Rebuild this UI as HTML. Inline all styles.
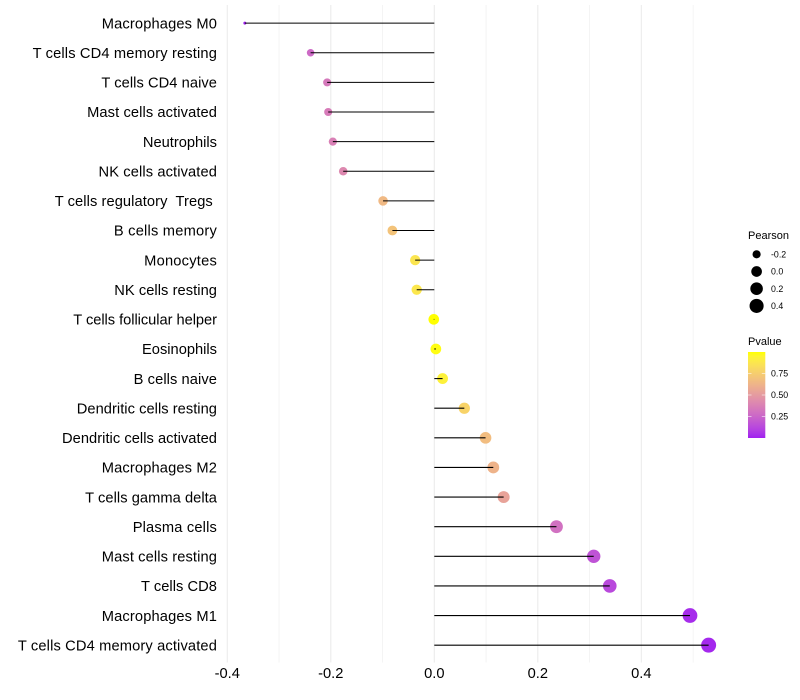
<!DOCTYPE html>
<html>
<head>
<meta charset="utf-8">
<title>Lollipop chart</title>
<style>
html,body{margin:0;padding:0;background:#fff;}
svg{display:block;font-family:"Liberation Sans",sans-serif;}
</style>
</head>
<body>
<svg id="chart" width="800" height="700" viewBox="0 0 800 700"></svg>
<script>
const categories = ["Macrophages M0","T cells CD4 memory resting","T cells CD4 naive","Mast cells activated","Neutrophils","NK cells activated","T cells regulatory  Tregs ","B cells memory","Monocytes","NK cells resting","T cells follicular helper","Eosinophils","B cells naive","Dendritic cells resting","Dendritic cells activated","Macrophages M2","T cells gamma delta","Plasma cells","Mast cells resting","T cells CD8","Macrophages M1","T cells CD4 memory activated"];
const pearsonValues = [-0.366,-0.239,-0.207,-0.205,-0.196,-0.176,-0.099,-0.081,-0.037,-0.034,-0.001,0.003,0.016,0.058,0.099,0.114,0.134,0.236,0.308,0.339,0.494,0.53];
const pValues = [0.001,0.27,0.34,0.35,0.37,0.41,0.65,0.70,0.87,0.88,1.0,0.99,0.93,0.78,0.67,0.62,0.54,0.30,0.17,0.13,0.03,0.02];
const xTicks = [-0.4,-0.2,0.0,0.2,0.4];
const xMinorTicks = [-0.3,-0.1,0.1,0.3,0.5];
const sizeLegendValues = [-0.2,0.0,0.2,0.4];
const colorLegendValues = [0.75,0.50,0.25];
const colorDomain = [0,1];

const NS = 'http://www.w3.org/2000/svg';
const svg = document.getElementById('chart');
function make(tag, attrs, text){
  const e = document.createElementNS(NS, tag);
  for (const k in attrs) e.setAttribute(k, attrs[k]);
  if (text !== undefined) e.textContent = text;
  return e;
}
const X0 = 434.3, XK = 517.6, Y0 = 23.15, YS = 29.62, PT = 5, PB = 662.5;
function xScale(v){ return X0 + v * XK; }
function yScale(i){ return Y0 + i * YS; }
function radius(v){
  const lo = Math.min(...pearsonValues), hi = Math.max(...pearsonValues);
  const t = Math.max(0, (v - lo) / (hi - lo));
  return (1 + 5 * Math.sqrt(t)) * 7.2 / 6 + 0.3;
}
function toLin(c){ c/=255; return c<=0.04045?c/12.92:Math.pow((c+0.055)/1.055,2.4); }
function fromLin(c){ const v=c<=0.0031308?12.92*c:1.055*Math.pow(c,1/2.4)-0.055; return Math.round(255*Math.min(1,Math.max(0,v))); }
function rgb2lab(r,g,b){
  r=toLin(r);g=toLin(g);b=toLin(b);
  const X=(0.4124*r+0.3576*g+0.1805*b)/0.95047,Y=0.2126*r+0.7152*g+0.0722*b,Z=(0.0193*r+0.1192*g+0.9505*b)/1.08883;
  const f=t=>t>0.008856?Math.cbrt(t):7.787*t+16/116;
  return [116*f(Y)-16,500*(f(X)-f(Y)),200*(f(Y)-f(Z))];
}
function lab2rgb(L,a,b){
  const fy=(L+16)/116,fx=fy+a/500,fz=fy-b/200;
  const g=t=>t*t*t>0.008856?t*t*t:(t-16/116)/7.787;
  const X=g(fx)*0.95047,Y=g(fy),Z=g(fz)*1.08883;
  return 'rgb('+fromLin(3.2406*X-1.5372*Y-0.4986*Z)+','+fromLin(-0.9689*X+1.8758*Y+0.0415*Z)+','+fromLin(0.0557*X-0.2040*Y+1.0570*Z)+')';
}
const labLow = rgb2lab(160,32,240), labHigh = rgb2lab(255,255,0);
function color(p){
  const t = (p - colorDomain[0]) / (colorDomain[1] - colorDomain[0]);
  return lab2rgb(labLow[0]+(labHigh[0]-labLow[0])*t, labLow[1]+(labHigh[1]-labLow[1])*t, labLow[2]+(labHigh[2]-labLow[2])*t);
}

/* gridlines */
xMinorTicks.forEach(v=>{
  const l = make('line',{x1:xScale(v),x2:xScale(v),y1:PT,y2:PB,stroke:'#ebebeb','stroke-width':0.55});
  
  
  svg.appendChild(l);
});
xTicks.forEach(v=>{
  const l = make('line',{x1:xScale(v),x2:xScale(v),y1:PT,y2:PB,stroke:'#ebebeb','stroke-width':1.07});
  
  
  svg.appendChild(l);
});

/* points */
categories.forEach((c,i)=>{
  const pt = make('circle',{cx:xScale(pearsonValues[i]),cy:yScale(i),r:radius(pearsonValues[i]),fill:color(pValues[i])});
  
  
  svg.appendChild(pt);
});
/* stems */
categories.forEach((c,i)=>{
  const st = make('line',{x1:xScale(0),x2:xScale(pearsonValues[i]),y1:yScale(i),y2:yScale(i),stroke:'#000','stroke-width':1.07});
  
  
  svg.appendChild(st);
});
/* category labels: per-label tracking mimics the hinted advances of the reference */
const labelTracking = [0.14,0.15,0.06,0.1,0,0.11,0.08,0.21,0.22,0.06,-0.04,0,0.08,0.04,0.04,0.14,0.05,0.17,0.11,0.05,0.14,0.14];
categories.forEach((c,i)=>{
  const t = make('text',{x:217,y:yScale(i)+5.2,'text-anchor':'end','font-size':14.67,'letter-spacing':labelTracking[i],fill:'#000','xml:space':'preserve',style:'white-space:pre'},c);
  
  
  svg.appendChild(t);
});
/* x tick labels */
xTicks.forEach(v=>{
  const t = make('text',{x:xScale(v),y:678,'text-anchor':'middle','font-size':14.67,fill:'#000'},v.toFixed(1));
  
  
  svg.appendChild(t);
});

/* size legend */
const sizeTitle = make('text',{x:748,y:239,'font-size':11,fill:'#000'},'Pearson');


svg.appendChild(sizeTitle);
sizeLegendValues.forEach((v,i)=>{
  const cy = 254.3 + i * 17.2;
  const c = make('circle',{cx:756.6,cy:cy,r:radius(v),fill:'#000'});
  
  
  svg.appendChild(c);
  const t = make('text',{x:771,y:cy+3.1,'font-size':8.8,fill:'#000'},v.toFixed(1));
  
  
  svg.appendChild(t);
});

/* colour legend */
const colorTitle = make('text',{x:748,y:345,'font-size':11,fill:'#000'},'Pvalue');


svg.appendChild(colorTitle);
const defs = make('defs',{});
const grad = make('linearGradient',{id:'pvalue-gradient',x1:0,y1:1,x2:0,y2:0});
for (let s = 0; s <= 20; s++){
  grad.appendChild(make('stop',{offset:(s/20),'stop-color':color(colorDomain[0]+(colorDomain[1]-colorDomain[0])*s/20)}));
}
defs.appendChild(grad);
svg.appendChild(defs);
const BAR_TOP = 352, BAR_BOTTOM = 438, BAR_L = 748, BAR_W = 17.3;
const bar = make('rect',{x:BAR_L,y:BAR_TOP,width:BAR_W,height:BAR_BOTTOM-BAR_TOP,fill:'url(#pvalue-gradient)'});


svg.appendChild(bar);
colorLegendValues.forEach(v=>{
  const y = BAR_BOTTOM - (v - colorDomain[0]) / (colorDomain[1] - colorDomain[0]) * (BAR_BOTTOM - BAR_TOP);
  const a = make('line',{x1:BAR_L,x2:BAR_L+3.5,y1:y,y2:y,stroke:'#fff','stroke-width':0.55});
  
  
  svg.appendChild(a);
  const b = make('line',{x1:BAR_L+BAR_W-3.5,x2:BAR_L+BAR_W,y1:y,y2:y,stroke:'#fff','stroke-width':0.55});
  
  
  svg.appendChild(b);
  const t = make('text',{x:771,y:y+3.1,'font-size':8.8,fill:'#000'},v.toFixed(2));
  
  
  svg.appendChild(t);
});
</script>
</body>
</html>
